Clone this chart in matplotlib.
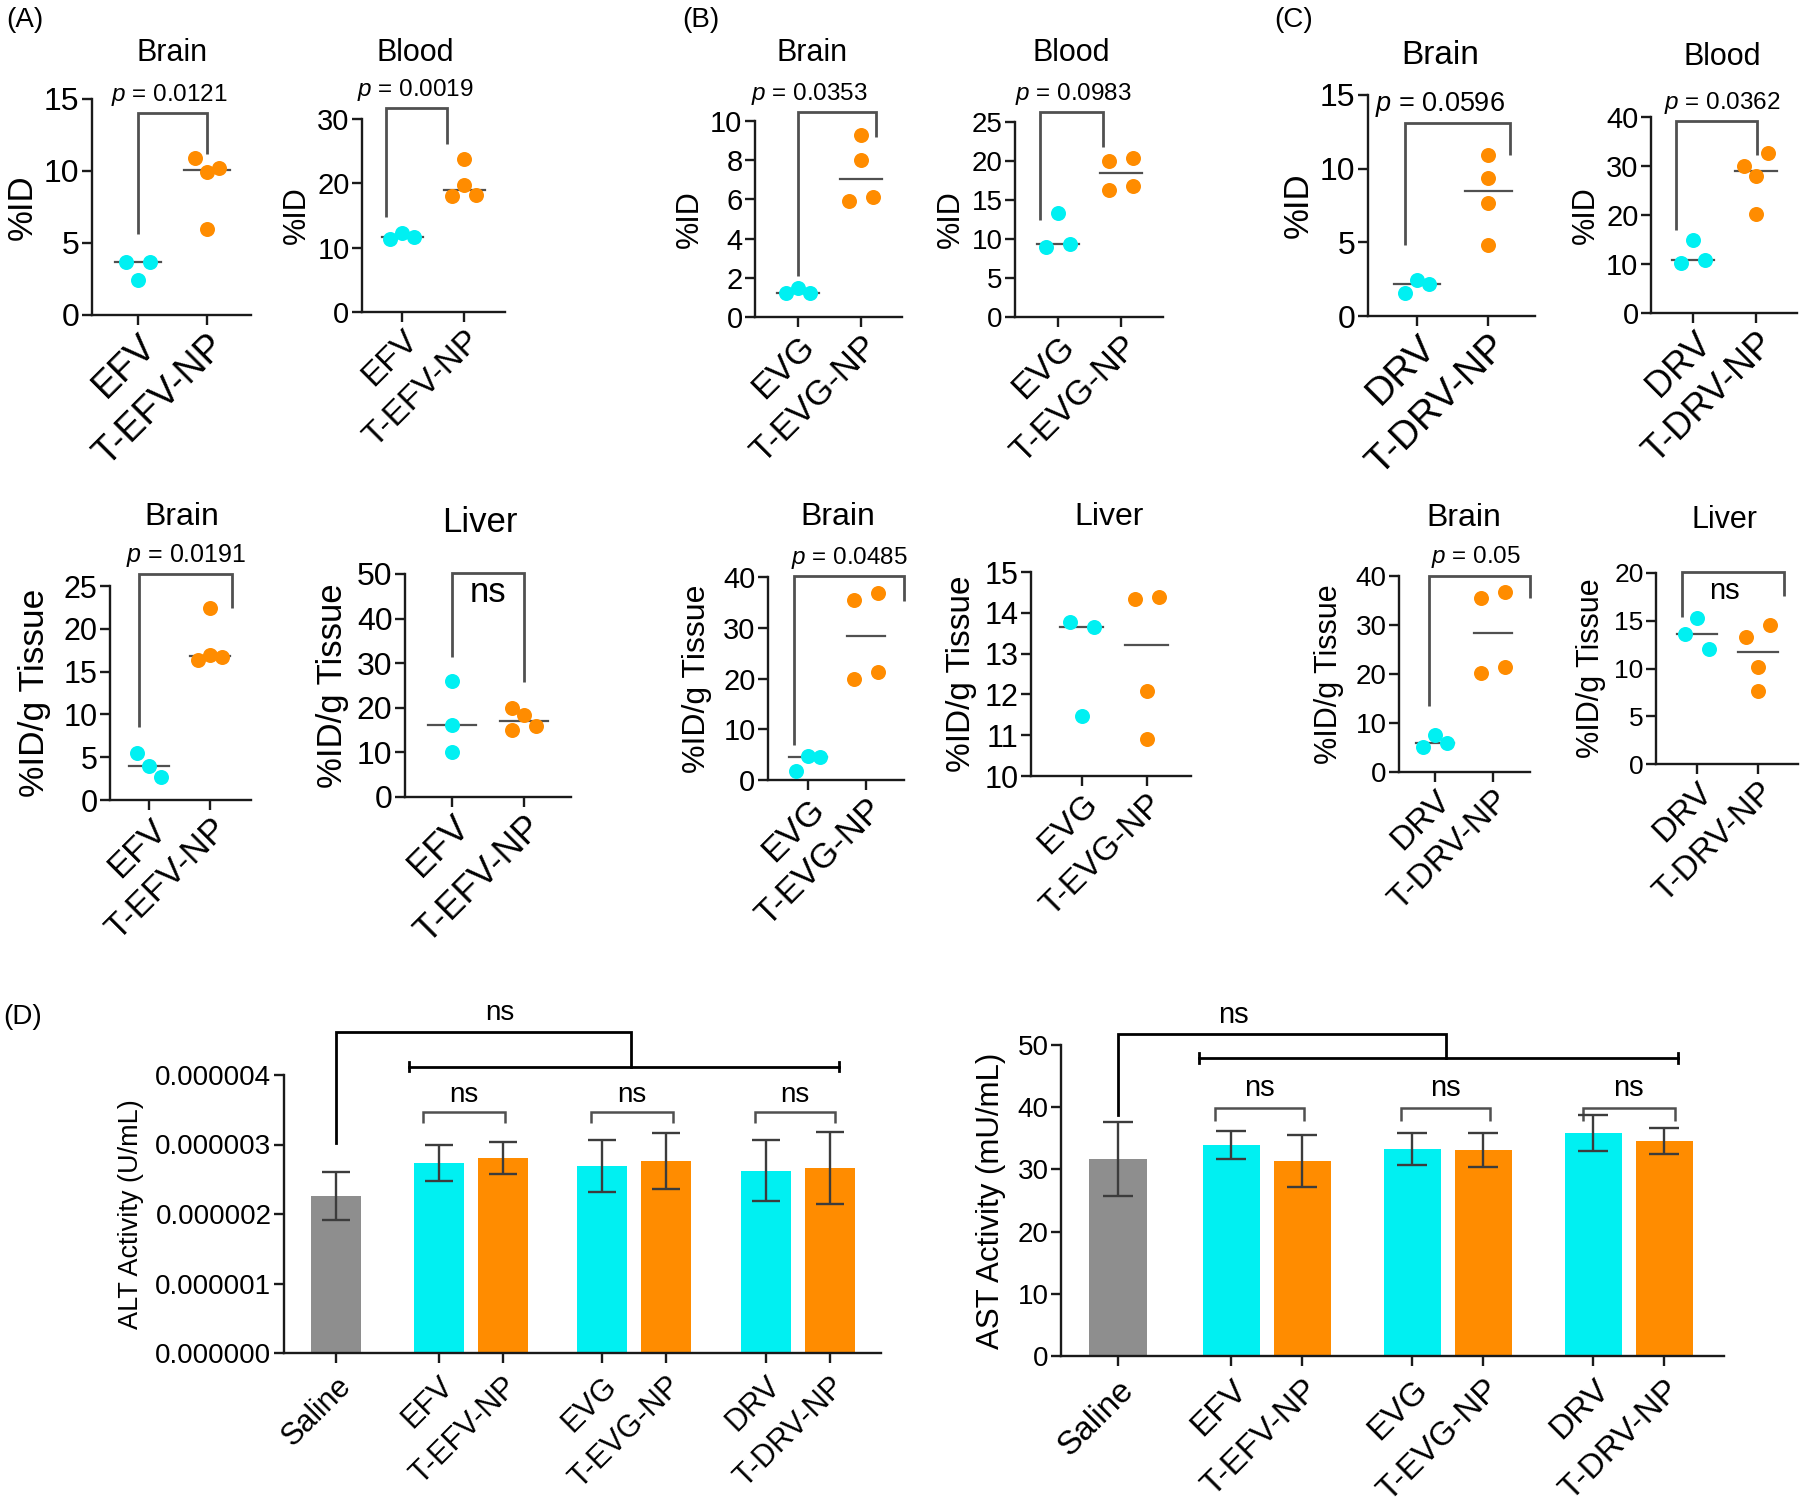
import numpy as np
import matplotlib
matplotlib.use("Agg")
import matplotlib.pyplot as plt

plt.rcParams['font.family'] = ['Liberation Sans', 'DejaVu Sans']
plt.rcParams['mathtext.fontset'] = 'custom'
plt.rcParams['mathtext.rm'] = 'Liberation Sans'
plt.rcParams['mathtext.it'] = 'Liberation Sans:italic'

W, H = 1800, 1512
CYAN = '#00F0F2'
ORANGE = '#FF8C00'
GREY = '#8E8E8E'
LINE = '#505050'
AXC = '#1a1a1a'

# ---- biodistribution: free drug (n=3) vs targeted nanoparticle (n=4)
# %ID
efv_brain_id = [3.7, 3.7, 2.4]
tefv_brain_id = [10.9, 9.9, 10.2, 6.0]
efv_blood_id = [11.3, 12.3, 11.6]
tefv_blood_id = [23.8, 18.0, 19.7, 18.2]
evg_brain_id = [1.2, 1.5, 1.2]
tevg_brain_id = [9.3, 8.0, 5.9, 6.1]
evg_blood_id = [13.3, 9.0, 9.3]
tevg_blood_id = [20.0, 20.4, 16.3, 16.8]
drv_brain_id = [1.55, 2.45, 2.15]
tdrv_brain_id = [10.9, 9.35, 7.65, 4.8]
drv_blood_id = [15.0, 10.3, 10.8]
tdrv_blood_id = [29.9, 28.0, 32.6, 20.3]

# %ID/g tissue
efv_brain_g = [5.45, 3.97, 2.72]
tefv_brain_g = [22.4, 16.35, 16.9, 16.7]
efv_liver_g = [25.9, 16.1, 10.2]
tefv_liver_g = [19.9, 18.4, 15.9, 15.0]
evg_brain_g = [1.84, 4.73, 4.47]
tevg_brain_g = [35.5, 36.8, 20.0, 21.3]
evg_liver_g = [13.78, 13.66, 11.47]
tevg_liver_g = [14.34, 14.38, 12.08, 10.9]
drv_brain_g = [5.04, 7.55, 5.86]
tdrv_brain_g = [35.5, 36.7, 20.2, 21.4]
drv_liver_g = [15.26, 13.6, 12.04]
tdrv_liver_g = [13.27, 14.55, 10.19, 7.68]

# ---- liver enzymes (mean, SD)
groups = ['Saline', 'EFV', 'T-EFV-NP', 'EVG', 'T-EVG-NP', 'DRV', 'T-DRV-NP']
alt_mean = [2.26e-6, 2.73e-6, 2.81e-6, 2.69e-6, 2.76e-6, 2.62e-6, 2.66e-6]
alt_sd = [0.34e-6, 0.26e-6, 0.23e-6, 0.38e-6, 0.40e-6, 0.44e-6, 0.52e-6]
ast_mean = [31.7, 33.9, 31.4, 33.3, 33.1, 35.8, 34.6]
ast_sd = [6.0, 2.3, 4.2, 2.6, 2.7, 2.9, 2.1]
bar_pos = [0, 1.6, 2.6, 4.15, 5.15, 6.7, 7.7]
bar_colors = [GREY, CYAN, ORANGE, CYAN, ORANGE, CYAN, ORANGE]


def px_box(x0, x1, ytop, ybot):
    return [x0 / W, 1 - ybot / H, (x1 - x0) / W, (ybot - ytop) / H]


def swarm_offsets(vals, px_y, px_x, diam=15, col=12):
    # Prism-like: points closer than a dot diameter share a row
    vals = np.asarray(vals, float)
    order = np.argsort(vals, kind='stable')
    clusters, cur = [], [order[0]]
    for a, b in zip(order[:-1], order[1:]):
        if (vals[b] - vals[a]) * px_y < diam:
            cur.append(b)
        else:
            clusters.append(cur)
            cur = [b]
    clusters.append(cur)
    off = np.zeros(len(vals))
    for cl in clusters:
        cl = sorted(cl)
        if len(cl) == 1:
            cols = [0]
        elif len(cl) == 2:
            cols = [-1, 1]
        else:
            cols = [(-1, 0, 1)[i % 3] for i in range(len(cl))]
        for i, c in zip(cl, cols):
            off[i] = c * col / px_x
    return off


def style_axes(ax, fs):
    for s in ['top', 'right']:
        ax.spines[s].set_visible(False)
    for s in ['left', 'bottom']:
        ax.spines[s].set_linewidth(1.7)
        ax.spines[s].set_color(AXC)
    ax.tick_params(width=1.7, length=7, labelsize=fs, color=AXC, pad=2)


def bracket(ax, xl, xr, ytop, yl, yr, color=LINE, lw=2.0):
    ax.plot([xl, xl, xr, xr], [yl, ytop, ytop, yr], color=color, lw=lw,
            clip_on=False, solid_joinstyle='miter', solid_capstyle='butt')


fig = plt.figure(figsize=(W / 100, H / 100), dpi=100)

# box = (yaxis x, axis right x, top y, bottom y) in px
# fs = (tick labels, x labels, y label, title, ylabel pad)
dot_panels = [
    dict(box=(92, 251, 99, 315), xlim=(-0.67, 1.64), ylim=(0, 15), yt=[0, 5, 10, 15],
         data=(efv_brain_id, tefv_brain_id), names=('EFV', 'T-EFV-NP'), yl='%ID',
         title='Brain', tpos=(172, 53), fs=(23, 27, 25, 22, 4),
         br=(0, 1, 14.0, 5.6, 11.2), txt=(r'$p$ = 0.0121', 0.46, 17.5, 'p')),
    dict(box=(362, 505, 119, 312), xlim=(-0.65, 1.66), ylim=(0, 30), yt=[0, 10, 20, 30],
         data=(efv_blood_id, tefv_blood_id), names=('EFV', 'T-EFV-NP'), yl='%ID',
         title='Blood', tpos=(415, 53), fs=(21, 24, 22, 22, 4),
         br=(-0.27, 0.73, 31.7, 14.8, 26.1), txt=(r'$p$ = 0.0019', 0.21, 17.5, 'p')),
    dict(box=(755, 902, 121, 317), xlim=(-0.68, 1.65), ylim=(0, 10), yt=[0, 2, 4, 6, 8, 10],
         data=(evg_brain_id, tevg_brain_id), names=('EVG', 'T-EVG-NP'), yl='%ID',
         title='Brain', tpos=(812, 53), fs=(21, 25, 22, 22, 4),
         br=(0, 1.24, 10.46, 2.1, 9.2), txt=(r'$p$ = 0.0353', 0.19, 17.5, 'p')),
    dict(box=(1015, 1163, 122, 317), xlim=(-0.68, 1.67), ylim=(0, 25), yt=[0, 5, 10, 15, 20, 25],
         data=(evg_blood_id, tevg_blood_id), names=('EVG', 'T-EVG-NP'), yl='%ID',
         title='Blood', tpos=(1071, 53), fs=(20, 25, 22, 22, 4),
         br=(-0.29, 0.71, 26.3, 12.4, 21.8), txt=(r'$p$ = 0.0983', 0.24, 17.5, 'p')),
    dict(box=(1368, 1535, 95, 316), xlim=(-0.69, 1.66), ylim=(0, 15), yt=[0, 5, 10, 15],
         data=(drv_brain_id, tdrv_brain_id), names=('DRV', 'T-DRV-NP'), yl='%ID',
         title='Brain', tpos=(1440, 55), fs=(23, 28, 25, 24, 4),
         br=(-0.17, 1.31, 13.1, 4.8, 10.9), txt=(r'$p$ = 0.0596', 0.32, 19.5, 'p')),
    dict(box=(1651, 1797, 117, 313), xlim=(-0.67, 1.65), ylim=(0, 40), yt=[0, 10, 20, 30, 40],
         data=(drv_blood_id, tdrv_blood_id), names=('DRV', 'T-DRV-NP'), yl='%ID',
         title='Blood', tpos=(1722, 57), fs=(21, 26, 22, 22, 4),
         br=(-0.27, 1.02, 39.2, 16.9, 32.2), txt=(r'$p$ = 0.0362', 0.46, 17.5, 'p')),
    dict(box=(110, 251, 586, 800), xlim=(-0.64, 1.67), ylim=(0, 25), yt=[0, 5, 10, 15, 20, 25],
         data=(efv_brain_g, tefv_brain_g), names=('EFV', 'T-EFV-NP'), yl='%ID/g Tissue',
         title='Brain', tpos=(182, 517), fs=(22, 25, 25.5, 23, 9),
         br=(-0.16, 1.36, 26.4, 8.5, 22.4), txt=(r'$p$ = 0.0191', 0.6, 18, 'p')),
    dict(box=(405, 571, 574, 797), xlim=(-0.65, 1.65), ylim=(0, 50), yt=[0, 10, 20, 30, 40, 50],
         data=(efv_liver_g, tefv_liver_g), names=('EFV', 'T-EFV-NP'), yl='%ID/g Tissue',
         title='Liver', tpos=(480, 522), fs=(23, 26, 25, 25, 6),
         br=(0, 1, 50.2, 31.4, 25.8), txt=('ns', 0.5, 25, 'in')),
    dict(box=(768, 904, 577, 780), xlim=(-0.69, 1.655), ylim=(0, 40), yt=[0, 10, 20, 30, 40],
         data=(evg_brain_g, tevg_brain_g), names=('EVG', 'T-EVG-NP'), yl='%ID/g Tissue',
         title='Brain', tpos=(838, 517), fs=(21, 25, 23, 23, 8),
         br=(-0.24, 1.66, 40.2, 6.9, 35.3), txt=(r'$p$ = 0.0485', 0.71, 17.5, 'p')),
    dict(box=(1031, 1191, 572, 776), xlim=(-0.78, 1.68), ylim=(10, 15), yt=[10, 11, 12, 13, 14, 15],
         data=(evg_liver_g, tevg_liver_g), names=('EVG', 'T-EVG-NP'), yl='%ID/g Tissue',
         title='Liver', tpos=(1109, 517), fs=(22, 24, 24, 23, 5),
         br=None, txt=None),
    dict(box=(1399, 1530, 576, 772), xlim=(-0.62, 1.64), ylim=(0, 40), yt=[0, 10, 20, 30, 40],
         data=(drv_brain_g, tdrv_brain_g), names=('DRV', 'T-DRV-NP'), yl='%ID/g Tissue',
         title='Brain', tpos=(1464, 518), fs=(20, 24, 22, 23, 8),
         br=(-0.1, 1.64, 40.1, 13.5, 35.5), txt=(r'$p$ = 0.05', 0.71, 17.5, 'p')),
    dict(box=(1656, 1798, 573, 764), xlim=(-0.67, 1.66), ylim=(0, 20), yt=[0, 5, 10, 15, 20],
         data=(drv_liver_g, tdrv_liver_g), names=('DRV', 'T-DRV-NP'), yl='%ID/g Tissue',
         title='Liver', tpos=(1725, 520), fs=(19, 24, 22, 22, 6),
         br=(-0.25, 1.43, 20.1, 15.4, 17.6), txt=('ns', 0.46, 21, 'in')),
]

for p in dot_panels:
    ax = fig.add_axes(px_box(*p['box']))
    ax.set_xlim(p['xlim'])
    ax.set_ylim(p['ylim'])
    tick_fs, xl_fs, yl_fs, t_fs, pad = p['fs']
    style_axes(ax, tick_fs)
    x0, x1, yt0, yb0 = p['box']
    px_x = (x1 - x0) / (p['xlim'][1] - p['xlim'][0])
    px_y = (yb0 - yt0) / (p['ylim'][1] - p['ylim'][0])
    for i, (vals, col) in enumerate(zip(p['data'], [CYAN, ORANGE])):
        off = swarm_offsets(vals, px_y, px_x)
        med = np.median(vals)
        ax.plot([i - 0.33, i + 0.33], [med, med], color=LINE, lw=1.6, zorder=2)
        ax.plot(i + off, vals, 'o', ms=10.8, color=col, mec='none', zorder=3, clip_on=False)
    ax.set_yticks(p['yt'])
    ax.set_xticks([0, 1])
    ax.set_xticklabels(p['names'], rotation=45, ha='right', rotation_mode='anchor', fontsize=xl_fs)
    ax.set_ylabel(p['yl'], fontsize=yl_fs, labelpad=pad)
    fig.text(p['tpos'][0] / W, 1 - p['tpos'][1] / H, p['title'], ha='center', va='center', fontsize=t_fs)
    if p['br'] is not None:
        bracket(ax, *p['br'])
        label, tx, tfs, kind = p['txt']
        dy = 13 if kind == 'p' else -14
        ax.annotate(label, (tx, p['br'][2]), xytext=(0, dy), textcoords='offset points',
                    ha='center', va='center', fontsize=tfs, annotation_clip=False)

# ---- (D) ALT / AST bars
bar_panels = [
    dict(box=(284, 881, 1075, 1353), xlim=(-0.81, 8.5), ylim=(0, 4e-6),
         yt=[0, 1e-6, 2e-6, 3e-6, 4e-6], fmt='%.6f', mean=alt_mean, sd=alt_sd,
         yl='ALT Activity (U/mL)', fs=(20, 22, 19.5, 20), width=0.78, cap=10,
         big=(0, 3.02e-6, 4.62e-6, 4.6, 4.12e-6, 1.14, 7.84, 0.065e-6, 2.55, 4.89e-6),
         small=(3.47e-6, 3.31e-6, [(1.36, 2.63), (3.97, 5.25), (6.53, 7.78)], 3.71e-6)),
    dict(box=(1061, 1724, 1045, 1356), xlim=(-0.8, 8.54), ylim=(0, 50),
         yt=[0, 10, 20, 30, 40, 50], fmt='%d', mean=ast_mean, sd=ast_sd,
         yl='AST Activity (mU/mL)', fs=(20, 24, 22.5, 21), width=0.81, cap=11,
         big=(0, 38.7, 51.8, 4.62, 47.9, 1.14, 7.89, 0.75, 1.63, 54.8),
         small=(39.9, 37.8, [(1.37, 2.63), (3.99, 5.25), (6.55, 7.85)], 43.1)),
]

for p in bar_panels:
    ax = fig.add_axes(px_box(*p['box']))
    ax.set_xlim(p['xlim'])
    ax.set_ylim(p['ylim'])
    tick_fs, xl_fs, yl_fs, ns_fs = p['fs']
    style_axes(ax, tick_fs)
    ax.bar(bar_pos, p['mean'], width=p['width'], color=bar_colors, zorder=2)
    ax.errorbar(bar_pos, p['mean'], yerr=p['sd'], fmt='none', ecolor='#3c3c3c',
                elinewidth=1.7, capsize=p['cap'], capthick=1.7, zorder=3)
    ax.set_yticks(p['yt'])
    ax.yaxis.set_major_formatter(matplotlib.ticker.FormatStrFormatter(p['fmt']))
    ax.set_xticks(bar_pos)
    ax.tick_params(axis='x', pad=6)
    ax.set_xticklabels(groups, rotation=45, ha='right', rotation_mode='anchor', fontsize=xl_fs)
    ax.set_ylabel(p['yl'], fontsize=yl_fs, labelpad=8)
    sx, sleg, top, rx, rleg, hx0, hx1, capy, nsx, nsy = p['big']
    ax.plot([sx, sx, rx, rx], [sleg, top, top, rleg], color='black', lw=2.0,
            clip_on=False, solid_joinstyle='miter')
    ax.plot([hx0, hx1], [rleg, rleg], color='black', lw=2.0, clip_on=False)
    for hx in (hx0, hx1):
        ax.plot([hx, hx], [rleg - capy, rleg + capy], color='black', lw=2.0, clip_on=False)
    ax.text(nsx, nsy, 'ns', ha='center', va='center', fontsize=ns_fs)
    stop, sbot, pairs, nsy2 = p['small']
    for xl, xr in pairs:
        bracket(ax, xl, xr, stop, sbot, sbot, color=LINE, lw=1.8)
        ax.text((xl + xr) / 2, nsy2, 'ns', ha='center', va='center', fontsize=ns_fs)

# panel letters
for lab, (x, y) in zip(['(A)', '(B)', '(C)', '(D)'],
                       [(25, 20), (701, 20), (1294, 20), (23, 1017)]):
    fig.text(x / W, 1 - y / H, lab, ha='center', va='center', fontsize=20)

fig.savefig('out.png', dpi=100)
